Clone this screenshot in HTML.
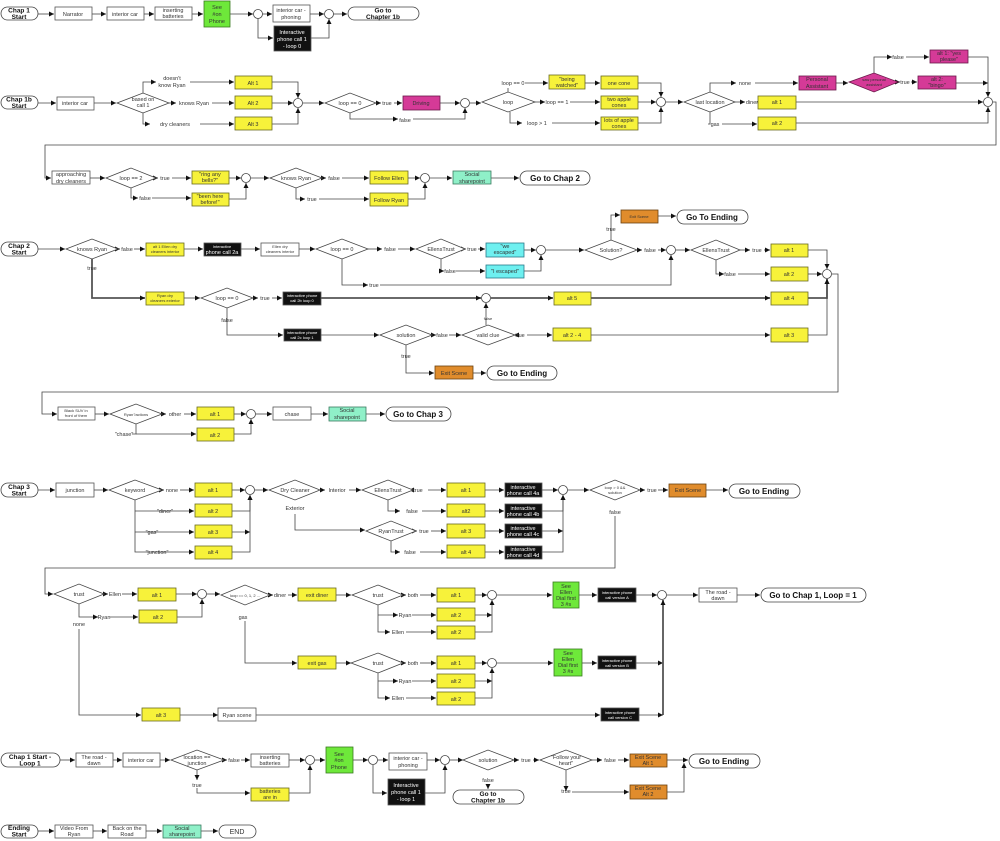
<!DOCTYPE html>
<html><head><meta charset="utf-8"><style>
html,body{margin:0;padding:0;background:#fff;}
svg{display:block;font-family:"Liberation Sans",sans-serif;}
.b{fill:#fff;stroke:#555;stroke-width:0.8}
.y{fill:#f7f23a;stroke:#6a6a20;stroke-width:0.8}
.g{fill:#6ee83a;stroke:#3a7a20;stroke-width:0.8}
.m{fill:#d53a97;stroke:#6a1a4a;stroke-width:0.8}
.o{fill:#e08c2c;stroke:#6a4010;stroke-width:0.8}
.t{fill:#8ff0c8;stroke:#3a7a60;stroke-width:0.8}
.c{fill:#6ef0f0;stroke:#2a7a8a;stroke-width:0.8}
.k{fill:#111;stroke:#555;stroke-width:0.8}
.d{fill:#fff;stroke:#444;stroke-width:0.8}
.dm{fill:#d53a97;stroke:#6a1a4a;stroke-width:0.8}
.p{fill:#fff;stroke:#444;stroke-width:0.8}
.l{fill:none;stroke:#444;stroke-width:0.8}
.L{fill:none;stroke:#555;stroke-width:1.8}
text{font-size:5.5px;fill:#333;text-anchor:middle}
.w{fill:#fff}
.pt{font-size:6.5px;font-weight:bold;fill:#111}
.pb{font-size:8px;font-weight:bold;fill:#111}
.s{font-size:4px}
</style></head><body>
<svg width="1000" height="841" viewBox="0 0 1000 841">
<defs><marker id="a" markerWidth="6" markerHeight="6" refX="5" refY="3" orient="auto" markerUnits="userSpaceOnUse"><path d="M0,0.5 L5,3 L0,5.5z" fill="#111"/></marker></defs>
<path class="l" d="M508,92V88"/><path class="l" d="M710,112V124H708"/><path class="l" d="M136,424V434H132"/>
<g marker-end="url(#a)">
<!-- Row 1 -->
<path class="l" d="M38,14H54"/><path class="l" d="M92,14H106"/><path class="l" d="M144,14H154"/><path class="l" d="M192,14H203"/>
<path class="l" d="M230,14H253"/><path class="l" d="M262,14H272"/><path class="l" d="M258,18V38H273"/><path class="l" d="M310,14H324"/><path class="l" d="M311,38H329V19"/><path class="l" d="M333,14H347"/>
<!-- Row 2 -->
<path class="l" d="M38,103H56"/><path class="l" d="M94,103H116"/>
<path class="l" d="M143,93V82H156"/><path class="l" d="M190,82H234"/><path class="l" d="M169,103H176"/><path class="l" d="M212,103H234"/><path class="l" d="M143,113V124H150"/><path class="l" d="M200,124H234"/>
<path class="l" d="M272,82H298V98"/><path class="l" d="M272,103H293"/><path class="l" d="M272,124H298V108"/>
<path class="l" d="M303,103H324"/><path class="l" d="M376,103H381"/><path class="l" d="M394,103H402"/><path class="l" d="M440,103H460"/><path class="l" d="M350,113V119H398"/><path class="l" d="M413,119H465V108"/><path class="l" d="M470,103H481"/>
<path class="l" d="M525,83H548"/><path class="l" d="M585,83H600"/><path class="l" d="M535,102H545"/><path class="l" d="M570,102H600"/><path class="l" d="M510,112V123H522"/><path class="l" d="M552,123H600"/>
<path class="l" d="M638,83H661V97"/><path class="l" d="M638,102H656"/><path class="l" d="M638,123H661V107"/><path class="l" d="M666,102H683"/>
<path class="l" d="M710,92V83H736"/><path class="l" d="M755,83H798"/><path class="l" d="M836,83H848"/><path class="l" d="M874,74V57H892"/><path class="l" d="M906,57H929"/><path class="l" d="M898,82H900"/><path class="l" d="M911,82H917"/>
<path class="l" d="M735,102H745"/><path class="l" d="M760,102H757"/><path class="l" d="M722,124H757"/>
<path class="l" d="M968,57H988V97"/><path class="l" d="M956,83H988"/><path class="l" d="M796,102H983"/><path class="l" d="M796,123H988V107"/>
<path class="l" d="M993,102H996V145H45V178H51"/>
<!-- Row 3 -->
<path class="l" d="M90,178H105"/><path class="l" d="M156,178H158"/><path class="l" d="M172,178H191"/><path class="l" d="M131,188V198H138"/><path class="l" d="M152,198H191"/>
<path class="l" d="M229,178H241"/><path class="l" d="M229,199H246V183"/><path class="l" d="M251,178H269"/><path class="l" d="M322,178H326"/><path class="l" d="M342,178H369"/><path class="l" d="M296,188V199H305"/><path class="l" d="M319,199H369"/>
<path class="l" d="M408,178H420"/><path class="l" d="M408,199H425V183"/><path class="l" d="M430,178H452"/><path class="l" d="M491,178H519"/>
<!-- Row 4 -->
<path class="l" d="M38,249H65"/><path class="l" d="M118,249H120"/><path class="l" d="M134,249H145"/><path class="l" d="M184,249H203"/><path class="l" d="M241,249H260"/><path class="l" d="M299,249H315"/>
<path class="l" d="M368,249H382"/><path class="l" d="M398,249H415"/><path class="l" d="M465,249H466"/><path class="l" d="M478,249H485"/><path class="l" d="M441,259V271H444"/><path class="l" d="M456,271H485"/>
<path class="l" d="M524,250H536"/><path class="l" d="M524,271H541V255"/><path class="l" d="M546,250H584"/><path class="l" d="M611,240V215H620"/><path class="l" d="M658,216H676"/><path class="l" d="M637,250H642"/><path class="l" d="M658,250H666"/><path class="l" d="M676,250H690"/>
<path class="l" d="M740,250H750"/><path class="l" d="M764,250H770"/><path class="l" d="M716,260V274H724"/><path class="l" d="M738,274H770"/>
<path class="l" d="M342,259V285H368"/><path class="l" d="M380,285H671V255"/>
<path class="L" d="M92,259V298H145"/><path class="l" d="M184,298H200"/><path class="l" d="M253,298H258"/><path class="l" d="M272,298H282"/><path class="L" d="M321,298H481"/><path class="L" d="M491,298H553"/><path class="L" d="M591,298H770"/>
<path class="l" d="M227,308V335H283"/><path class="l" d="M321,335H379"/><path class="l" d="M432,335H436"/><path class="l" d="M449,335H461"/><path class="l" d="M486,325V303"/><path class="l" d="M515,335H514"/><path class="l" d="M527,335H552"/><path class="l" d="M591,335H770"/>
<path class="l" d="M406,345V373H434"/><path class="l" d="M473,373H486"/>
<path class="l" d="M808,250H827V269"/><path class="l" d="M808,274H822"/><path class="L" d="M808,298H827V279"/><path class="l" d="M808,335H827V279"/>
<path class="l" d="M832,274H838V392H42V414H57"/>
<!-- Row 5 -->
<path class="l" d="M95,414H109"/><path class="l" d="M162,414H166"/><path class="l" d="M184,414H196"/>
<path class="l" d="M136,434H196"/>
<path class="l" d="M234,414H246"/><path class="l" d="M234,434H251V419"/><path class="l" d="M256,414H272"/><path class="l" d="M311,414H328"/><path class="l" d="M366,414H385"/>
<!-- Row 6 -->
<path class="l" d="M38,490H55"/><path class="l" d="M94,490H108"/><path class="l" d="M162,490H164"/><path class="l" d="M180,490H194"/>
<path class="l" d="M135,500V552H194"/><path class="l" d="M135,511H194"/><path class="l" d="M135,532H194"/>
<path class="l" d="M232,490H245"/><path class="l" d="M232,511H250V495"/><path class="l" d="M232,532H250"/><path class="l" d="M232,552H250V495"/><path class="l" d="M255,490H268"/>
<path class="l" d="M320,490H325"/><path class="l" d="M349,490H361"/><path class="l" d="M413,490H409"/><path class="l" d="M428,490H446"/><path class="l" d="M388,500V511H400"/><path class="l" d="M422,511H446"/>
<path class="l" d="M295,514V530H365"/><path class="l" d="M416,531H417"/><path class="l" d="M431,531H446"/><path class="l" d="M391,541V552H400"/><path class="l" d="M420,552H446"/>
<path class="l" d="M485,490H504"/><path class="l" d="M485,511H504"/><path class="l" d="M485,531H504"/><path class="l" d="M485,552H504"/>
<path class="l" d="M542,490H558"/><path class="l" d="M542,511H563V495"/><path class="l" d="M542,531H563"/><path class="l" d="M542,552H563V495"/><path class="l" d="M568,490H589"/>
<path class="l" d="M640,490H645"/><path class="l" d="M658,490H668"/><path class="l" d="M706,490H728"/>
<path class="l" d="M615,516V568H45V594H53"/>
<!-- Row 7 -->
<path class="l" d="M104,594H108"/><path class="l" d="M122,594H137"/><path class="l" d="M79,604V617H98"/><path class="l" d="M110,617H138"/>
<path class="l" d="M176,594H197"/><path class="l" d="M177,617H202V599"/><path class="l" d="M207,594H220"/><path class="l" d="M270,595H273"/><path class="l" d="M288,595H297"/><path class="l" d="M336,595H351"/>
<path class="l" d="M403,595H406"/><path class="l" d="M420,595H436"/><path class="l" d="M378,605V632H390"/><path class="l" d="M378,615H398"/><path class="l" d="M412,615H436"/><path class="l" d="M406,632H436"/>
<path class="l" d="M475,595H487"/><path class="l" d="M475,615H492"/><path class="l" d="M475,632H492V600"/><path class="l" d="M497,595H552"/><path class="l" d="M579,595H597"/><path class="l" d="M636,595H657"/><path class="l" d="M667,595H698"/><path class="l" d="M737,595H760"/>
<path class="l" d="M245,621V663H297"/><path class="l" d="M336,663H351"/><path class="l" d="M403,663H406"/><path class="l" d="M420,663H436"/><path class="l" d="M378,673V698H390"/><path class="l" d="M378,681H398"/><path class="l" d="M412,681H436"/><path class="l" d="M406,698H436"/>
<path class="l" d="M475,663H487"/><path class="l" d="M475,681H492"/><path class="l" d="M475,698H492V668"/><path class="l" d="M497,663H553"/><path class="l" d="M582,663H597"/><path class="l" d="M636,663H663"/>
<path class="L" d="M663,715V600"/>
<path class="l" d="M79,629V715H141"/><path class="l" d="M180,715H218"/><path class="l" d="M256,715H600"/><path class="l" d="M639,715H663"/>
<!-- Row 8 -->
<path class="l" d="M60,760H75"/><path class="l" d="M113,760H122"/><path class="l" d="M160,760H170"/><path class="l" d="M224,760H227"/><path class="l" d="M241,760H250"/><path class="l" d="M289,760H305"/>
<path class="l" d="M197,770V780"/><path class="l" d="M197,788V793H250"/><path class="l" d="M289,793H310V765"/><path class="l" d="M315,760H325"/><path class="l" d="M353,760H368"/><path class="l" d="M378,760H388"/><path class="l" d="M373,765V793H387"/>
<path class="l" d="M427,760H440"/><path class="l" d="M425,793H445V765"/><path class="l" d="M450,760H463"/><path class="l" d="M488,786V789"/><path class="l" d="M514,760H519"/><path class="l" d="M533,760H539"/><path class="l" d="M592,760H602"/><path class="l" d="M618,760H629"/>
<path class="l" d="M566,770V791"/><path class="l" d="M572,792H629"/><path class="l" d="M667,760H688"/><path class="l" d="M667,792H684V763"/>
<!-- Row 9 -->
<path class="l" d="M38,831H54"/><path class="l" d="M93,831H107"/><path class="l" d="M146,831H162"/><path class="l" d="M201,831H218"/>
</g>

<g class="d">
<circle cx="258" cy="14" r="4.5"/><circle cx="329" cy="14" r="4.5"/>
<circle cx="298" cy="103" r="4.5"/><circle cx="465" cy="103" r="4.5"/><circle cx="661" cy="102" r="4.5"/><circle cx="988" cy="102" r="4.5"/>
<circle cx="246" cy="178" r="4.5"/><circle cx="425" cy="178" r="4.5"/>
<circle cx="541" cy="250" r="4.5"/><circle cx="671" cy="250" r="4.5"/><circle cx="827" cy="274" r="4.5"/><circle cx="486" cy="298" r="4.5"/>
<circle cx="251" cy="414" r="4.5"/>
<circle cx="250" cy="490" r="4.5"/><circle cx="563" cy="490" r="4.5"/>
<circle cx="202" cy="594" r="4.5"/><circle cx="492" cy="595" r="4.5"/><circle cx="662" cy="595" r="4.5"/><circle cx="492" cy="663" r="4.5"/>
<circle cx="310" cy="760" r="4.5"/><circle cx="373" cy="760" r="4.5"/><circle cx="445" cy="760" r="4.5"/>
</g>

<g class="d">
<polygon points="117,103 143,93 169,103 143,113"/>
<polygon points="325,103 350,93 376,103 350,113"/>
<polygon points="482,102 508,92 535,102 508,112"/>
<polygon points="684,102 710,92 735,102 710,112"/>
<polygon points="106,178 131,168 156,178 131,188"/>
<polygon points="270,178 296,168 322,178 296,188"/>
<polygon points="66,249 92,239 118,249 92,259"/>
<polygon points="316,249 342,239 368,249 342,259"/>
<polygon points="416,249 441,239 465,249 441,259"/>
<polygon points="585,250 611,240 637,250 611,260"/>
<polygon points="691,250 716,240 740,250 716,260"/>
<polygon points="201,298 227,288 253,298 227,308"/>
<polygon points="380,335 406,325 432,335 406,345"/>
<polygon points="462,335 488,325 515,335 488,345"/>
<polygon points="110,414 136,404 162,414 136,424"/>
<polygon points="109,490 135,480 162,490 135,500"/>
<polygon points="269,490 295,480 320,490 295,500"/>
<polygon points="362,490 388,480 413,490 388,500"/>
<polygon points="366,531 391,521 416,531 391,541"/>
<polygon points="590,490 615,480 640,490 615,500"/>
<polygon points="54,594 79,584 104,594 79,604"/>
<polygon points="221,595 245,585 270,595 245,605"/>
<polygon points="352,595 378,585 403,595 378,605"/>
<polygon points="351,663 378,653 403,663 378,673"/>
<polygon points="171,760 197,750 224,760 197,770"/>
<polygon points="463,760 488,750 514,760 488,770"/>
<polygon points="540,760 566,750 592,760 566,770"/>
</g>
<polygon class="dm" points="849,82 874,73 898,82 874,92"/>

<g class="p">
<rect x="1" y="7" width="37" height="13" rx="6.5"/><rect x="348" y="7" width="71" height="13" rx="6.5"/>
<rect x="1" y="96" width="37" height="13" rx="6.5"/>
<rect x="520" y="171" width="70" height="14" rx="7"/>
<rect x="1" y="242" width="37" height="14" rx="7"/><rect x="677" y="210" width="71" height="14" rx="7"/><rect x="487" y="366" width="70" height="14" rx="7"/>
<rect x="386" y="407" width="65" height="14" rx="7"/>
<rect x="1" y="483" width="37" height="14" rx="7"/><rect x="729" y="484" width="71" height="14" rx="7"/>
<rect x="761" y="588" width="105" height="14" rx="7"/>
<rect x="1" y="753" width="59" height="14" rx="7"/><rect x="453" y="790" width="71" height="14" rx="7"/><rect x="689" y="754" width="71" height="14" rx="7"/>
<rect x="1" y="825" width="37" height="13" rx="6.5"/><rect x="219" y="825" width="37" height="13" rx="6.5"/>
</g>

<rect class="b" x="55" y="7" width="37" height="13"/><rect class="b" x="107" y="7" width="37" height="13"/><rect class="b" x="155" y="7" width="37" height="13"/>
<rect class="g" x="204" y="1" width="26" height="26"/><rect class="b" x="273" y="5" width="37" height="17"/><rect class="k" x="274" y="26" width="37" height="25"/>
<rect class="b" x="57" y="97" width="37" height="13"/>
<rect class="y" x="235" y="76" width="37" height="13"/><rect class="y" x="235" y="96" width="37" height="13"/><rect class="y" x="235" y="117" width="37" height="13"/>
<rect class="m" x="403" y="96" width="37" height="14"/>
<rect class="y" x="549" y="75" width="36" height="14"/><rect class="y" x="601" y="76" width="37" height="13"/><rect class="y" x="601" y="96" width="37" height="13"/><rect class="y" x="601" y="117" width="37" height="13"/>
<rect class="m" x="799" y="76" width="37" height="14"/><rect class="m" x="930" y="50" width="38" height="13"/><rect class="m" x="918" y="76" width="38" height="13"/>
<rect class="y" x="758" y="96" width="38" height="13"/><rect class="y" x="758" y="117" width="38" height="13"/>
<rect class="b" x="52" y="171" width="38" height="13"/><rect class="y" x="192" y="171" width="37" height="13"/><rect class="y" x="192" y="193" width="37" height="13"/>
<rect class="y" x="370" y="171" width="38" height="13"/><rect class="y" x="370" y="193" width="38" height="13"/><rect class="t" x="453" y="171" width="38" height="13"/>
<rect class="y" x="146" y="243" width="38" height="13"/><rect class="k" x="204" y="243" width="37" height="13"/><rect class="b" x="261" y="243" width="38" height="13"/>
<rect class="c" x="486" y="243" width="38" height="14"/><rect class="c" x="486" y="265" width="38" height="13"/>
<rect class="o" x="621" y="210" width="37" height="13"/>
<rect class="y" x="771" y="244" width="37" height="13"/><rect class="y" x="771" y="267" width="37" height="14"/>
<rect class="y" x="146" y="292" width="38" height="13"/><rect class="k" x="283" y="292" width="38" height="13"/>
<rect class="y" x="554" y="292" width="37" height="13"/><rect class="y" x="771" y="292" width="37" height="13"/>
<rect class="k" x="284" y="329" width="37" height="12"/><rect class="y" x="553" y="328" width="38" height="13"/><rect class="y" x="771" y="328" width="37" height="14"/>
<rect class="o" x="435" y="366" width="38" height="13"/>
<rect class="b" x="58" y="407" width="37" height="13"/><rect class="y" x="197" y="407" width="37" height="13"/><rect class="y" x="197" y="428" width="37" height="13"/>
<rect class="b" x="273" y="407" width="38" height="13"/><rect class="t" x="329" y="407" width="37" height="14"/>
<rect class="b" x="56" y="483" width="38" height="14"/>
<rect class="y" x="195" y="483" width="37" height="14"/><rect class="y" x="195" y="504" width="37" height="13"/><rect class="y" x="195" y="525" width="37" height="13"/><rect class="y" x="195" y="546" width="37" height="13"/>
<rect class="y" x="447" y="483" width="38" height="14"/><rect class="y" x="447" y="504" width="38" height="13"/><rect class="y" x="447" y="524" width="38" height="14"/><rect class="y" x="447" y="545" width="38" height="13"/>
<rect class="k" x="505" y="483" width="37" height="14"/><rect class="k" x="505" y="504" width="37" height="14"/><rect class="k" x="505" y="524" width="37" height="14"/><rect class="k" x="505" y="546" width="37" height="13"/>
<rect class="o" x="669" y="484" width="37" height="13"/>
<rect class="y" x="138" y="588" width="38" height="13"/><rect class="y" x="139" y="610" width="38" height="13"/><rect class="y" x="298" y="588" width="38" height="13"/>
<rect class="y" x="437" y="588" width="38" height="14"/><rect class="y" x="437" y="608" width="38" height="13"/><rect class="y" x="437" y="626" width="38" height="13"/>
<rect class="g" x="553" y="582" width="26" height="26"/><rect class="k" x="598" y="588" width="38" height="14"/><rect class="b" x="699" y="588" width="38" height="14"/>
<rect class="y" x="298" y="656" width="38" height="13"/>
<rect class="y" x="437" y="656" width="38" height="13"/><rect class="y" x="437" y="674" width="38" height="14"/><rect class="y" x="437" y="692" width="38" height="13"/>
<rect class="g" x="554" y="649" width="28" height="27"/><rect class="k" x="598" y="656" width="38" height="13"/>
<rect class="y" x="142" y="708" width="38" height="13"/><rect class="b" x="218" y="708" width="38" height="13"/><rect class="k" x="601" y="708" width="38" height="13"/>
<rect class="b" x="76" y="753" width="37" height="14"/><rect class="b" x="123" y="753" width="37" height="14"/><rect class="b" x="251" y="754" width="38" height="13"/><rect class="y" x="251" y="788" width="38" height="13"/>
<rect class="g" x="326" y="747" width="27" height="26"/><rect class="b" x="389" y="753" width="38" height="17"/><rect class="k" x="388" y="779" width="37" height="26"/>
<rect class="o" x="630" y="754" width="37" height="13"/><rect class="o" x="630" y="785" width="37" height="14"/>
<rect class="b" x="55" y="825" width="38" height="13"/><rect class="b" x="108" y="825" width="38" height="13"/><rect class="t" x="163" y="825" width="38" height="13"/>

<g>
<text class="pt" x="19" y="12.5">Chap 1</text><text class="pt" x="19" y="19">Start</text>
<text x="73" y="16">Narrator</text><text x="125" y="16">interior car</text><text x="173" y="12">inserting</text><text x="173" y="18">batteries</text>
<text x="217" y="9">See</text><text x="217" y="16">#on</text><text x="217" y="23">Phone</text>
<text x="291" y="12">interior car -</text><text x="291" y="19">phoning</text>
<text class="w" x="292" y="34">Interactive</text><text class="w" x="292" y="41">phone call 1</text><text class="w" x="292" y="48">- loop 0</text>
<text class="pt" x="383" y="12.5">Go to</text><text class="pt" x="383" y="19">Chapter 1b</text>

<text class="pt" x="19" y="101.5">Chap 1b</text><text class="pt" x="19" y="108">Start</text>
<text x="75" y="105">interior car</text><text x="143" y="101">based on</text><text x="143" y="107">call 1</text>
<text x="172" y="80">doesn't</text><text x="172" y="87">know Ryan</text><text x="194" y="105">knows Ryan</text><text x="175" y="126">dry cleaners</text>
<text x="253" y="85">Alt 1</text><text x="253" y="105">Alt 2</text><text x="253" y="126">Alt 3</text>
<text x="350" y="105">loop == 0</text><text x="387" y="105">true</text><text x="421" y="105">Driving</text><text x="405" y="122">false</text>
<text x="508" y="104">loop</text><text x="513" y="85">loop == 0</text><text x="557" y="104">loop == 1</text><text x="537" y="125">loop &gt; 1</text>
<text x="567" y="81">"being</text><text x="567" y="87">watched"</text><text x="619" y="85">one cone</text><text x="619" y="101">two apple</text><text x="619" y="107">cones</text><text x="619" y="122">lots of apple</text><text x="619" y="128">cones</text>
<text x="710" y="104">last location</text><text x="745" y="85">none</text><text x="752" y="104">diner</text><text x="715" y="126">gas</text>
<text x="817" y="81">Personal</text><text x="817" y="88">Assistant</text><text class="s" x="874" y="81">saw personal</text><text class="s" x="874" y="86">assistant</text>
<text x="898" y="59">false</text><text x="905" y="84">true</text><text x="949" y="55">alt 1: "yes</text><text x="949" y="61">please"</text><text x="937" y="81">alt 2:</text><text x="937" y="87">"bingo"</text>
<text x="777" y="104">alt 1</text><text x="777" y="125">alt 2</text>

<text x="71" y="176">approaching</text><text x="71" y="183">dry cleaners</text><text x="131" y="180">loop == 2</text><text x="165" y="180">true</text><text x="145" y="200">false</text>
<text x="210" y="176">"ring any</text><text x="210" y="182">bells?"</text><text x="210" y="198">"been here</text><text x="210" y="204">before!"</text>
<text x="296" y="180">knows Ryan</text><text x="334" y="180">false</text><text x="312" y="201">true</text><text x="389" y="180">Follow Ellen</text><text x="389" y="202">Follow Ryan</text>
<text x="472" y="176">Social</text><text x="472" y="183">sharepoint</text><text class="pb" x="555" y="181">Go to Chap 2</text>

<text class="pt" x="19" y="248">Chap 2</text><text class="pt" x="19" y="254.5">Start</text>
<text x="92" y="251">knows Ryan</text><text x="127" y="251">false</text><text x="92" y="270">true</text>
<text class="s" x="165" y="248">alt 1 Ellen dry</text><text class="s" x="165" y="253">cleaners interior</text>
<text class="w s" x="222" y="248">Interactive</text><text class="w" x="222" y="254">phone call 2a</text>
<text class="s" x="280" y="248">Ellen dry</text><text class="s" x="280" y="253">cleaners interior</text>
<text x="342" y="251">loop == 0</text><text x="390" y="251">false</text><text x="441" y="251">EllensTrust</text><text x="472" y="251">true</text><text x="450" y="273">false</text>
<text x="505" y="248">"we</text><text x="505" y="254">escaped"</text><text x="505" y="273">"I escaped"</text>
<text x="611" y="252">Solution?</text><text x="611" y="231">true</text><text class="s" x="639" y="218">Exit Scene</text><text class="pb" x="712" y="220">Go To Ending</text>
<text x="650" y="252">false</text><text x="716" y="252">EllensTrust</text><text x="757" y="252">true</text><text x="730" y="276">false</text>
<text x="789" y="252">alt 1</text><text x="789" y="276">alt 2</text><text x="374" y="287">true</text>
<text class="s" x="165" y="297">Ryan dry</text><text class="s" x="165" y="302">cleaners exterior</text>
<text x="227" y="300">loop == 0</text><text x="265" y="300">true</text><text class="w s" x="302" y="297">Interactive phone</text><text class="w s" x="302" y="302">call 2b loop 0</text>
<text x="572" y="300">alt 5</text><text x="789" y="300">alt 4</text><text class="s" x="488" y="320">false</text>
<text x="227" y="322">false</text><text class="w s" x="302" y="334">Interactive phone</text><text class="w s" x="302" y="339">call 2c loop 1</text>
<text x="406" y="337">solution</text><text x="442" y="337">false</text><text x="488" y="337">valid clue</text><text x="520" y="337">true</text><text x="572" y="337">alt 2 - 4</text><text x="789" y="337">alt 3</text>
<text x="406" y="358">true</text><text x="454" y="375">Exit Scene</text><text class="pb" x="522" y="376">Go to Ending</text>

<text class="s" x="76" y="412">Black SUV in</text><text class="s" x="76" y="417">front of them</text><text class="s" x="136" y="416">Ryan?actions</text><text x="175" y="416">other</text><text x="124" y="436">"chase"</text>
<text x="215" y="416">alt 1</text><text x="215" y="437">alt 2</text><text x="292" y="416">chase</text><text x="347" y="412">Social</text><text x="347" y="419">sharepoint</text><text class="pb" x="418" y="417">Go to Chap 3</text>

<text class="pt" x="19" y="489">Chap 3</text><text class="pt" x="19" y="495.5">Start</text>
<text x="75" y="492">junction</text><text x="135" y="492">keyword</text><text x="172" y="492">none</text><text x="165" y="513">"diner"</text><text x="152" y="534">"gas"</text><text x="157" y="554">"junction"</text>
<text x="213" y="492">alt 1</text><text x="213" y="513">alt 2</text><text x="213" y="534">alt 3</text><text x="213" y="554">alt 4</text>
<text x="295" y="492">Dry Cleaner</text><text x="337" y="492">Interior</text><text x="295" y="510">Exterior</text>
<text x="388" y="492">EllensTrust</text><text x="418" y="492">true</text><text x="412" y="513">false</text>
<text x="391" y="533">RyanTrust</text><text x="424" y="533">true</text><text x="410" y="554">false</text>
<text x="466" y="492">alt 1</text><text x="466" y="513">alt2</text><text x="466" y="533">alt 3</text><text x="466" y="554">alt 4</text>
<text class="w" x="523" y="489">interactive</text><text class="w" x="523" y="495">phone call 4a</text><text class="w" x="523" y="510">interactive</text><text class="w" x="523" y="516">phone call 4b</text>
<text class="w" x="523" y="530">interactive</text><text class="w" x="523" y="536">phone call 4c</text><text class="w" x="523" y="551">interactive</text><text class="w" x="523" y="557">phone call 4d</text>
<text class="s" x="615" y="489">loop &gt; 0 &amp;&amp;</text><text class="s" x="615" y="494">solution</text><text x="652" y="492">true</text><text x="615" y="514">false</text>
<text x="688" y="492">Exit Scene</text><text class="pb" x="764" y="494">Go to Ending</text>

<text x="79" y="596">trust</text><text x="115" y="596">Ellen</text><text x="104" y="619">Ryan</text><text x="79" y="626">none</text>
<text x="157" y="597">alt 1</text><text x="158" y="619">alt 2</text><text class="s" x="245" y="597">loop == 0, 1, 2 ...</text><text x="280" y="597">diner</text><text x="317" y="597">exit diner</text><text x="243" y="619">gas</text>
<text x="378" y="597">trust</text><text x="413" y="597">both</text><text x="405" y="617">Ryan</text><text x="398" y="634">Ellen</text>
<text x="456" y="597">alt 1</text><text x="456" y="617">alt 2</text><text x="456" y="634">alt 2</text>
<text x="566" y="588">See</text><text x="566" y="594">Ellen</text><text x="566" y="600">Dial first</text><text x="566" y="606">3 #s</text>
<text class="w s" x="617" y="594">Interactive phone</text><text class="w s" x="617" y="599">call version A</text>
<text x="718" y="594">The road -</text><text x="718" y="600">dawn</text><text class="pb" x="813" y="598">Go to Chap 1, Loop = 1</text>
<text x="317" y="665">exit gas</text><text x="378" y="665">trust</text><text x="413" y="665">both</text><text x="405" y="683">Ryan</text><text x="398" y="700">Ellen</text>
<text x="456" y="665">alt 1</text><text x="456" y="683">alt 2</text><text x="456" y="701">alt 2</text>
<text x="568" y="655">See</text><text x="568" y="661">Ellen</text><text x="568" y="667">Dial first</text><text x="568" y="673">3 #s</text>
<text class="w s" x="617" y="662">Interactive phone</text><text class="w s" x="617" y="667">call version B</text>
<text x="161" y="717">alt 3</text><text x="237" y="717">Ryan scene</text><text class="w s" x="620" y="714">Interactive phone</text><text class="w s" x="620" y="719">call version C</text>

<text class="pt" x="30" y="759">Chap 1 Start -</text><text class="pt" x="30" y="765.5">Loop 1</text>
<text x="94" y="759">The road -</text><text x="94" y="765">dawn</text><text x="141" y="762">interior car</text>
<text x="197" y="759">location ==</text><text x="197" y="765">junction</text><text x="234" y="762">false</text><text x="197" y="787">true</text>
<text x="270" y="759">inserting</text><text x="270" y="765">batteries</text><text x="270" y="793">batteries</text><text x="270" y="799">are in</text>
<text x="339" y="756">See</text><text x="339" y="762">#on</text><text x="339" y="769">Phone</text>
<text x="408" y="760">interior car -</text><text x="408" y="767">phoning</text>
<text class="w" x="406" y="787">Interactive</text><text class="w" x="406" y="794">phone call 1</text><text class="w" x="406" y="801">- loop 1</text>
<text x="488" y="762">solution</text><text x="488" y="782">false</text><text class="pt" x="488" y="796">Go to</text><text class="pt" x="488" y="802.5">Chapter 1b</text>
<text x="526" y="762">true</text><text x="566" y="759">"Follow your</text><text x="566" y="765">heart"</text><text x="610" y="762">false</text><text x="566" y="793">true</text>
<text x="648" y="759">Exit Scene</text><text x="648" y="765">Alt 1</text><text x="648" y="790">Exit Scene</text><text x="648" y="796">Alt 2</text>
<text class="pb" x="724" y="764">Go to Ending</text>

<text class="pt" x="19" y="830">Ending</text><text class="pt" x="19" y="836.5">Start</text>
<text x="74" y="830">Video From</text><text x="74" y="836">Ryan</text><text x="127" y="830">Back on the</text><text x="127" y="836">Road</text>
<text x="182" y="830">Social</text><text x="182" y="836">sharepoint</text><text x="237" y="834" style="font-size:7px">END</text>
</g>
</svg>
</body></html>
